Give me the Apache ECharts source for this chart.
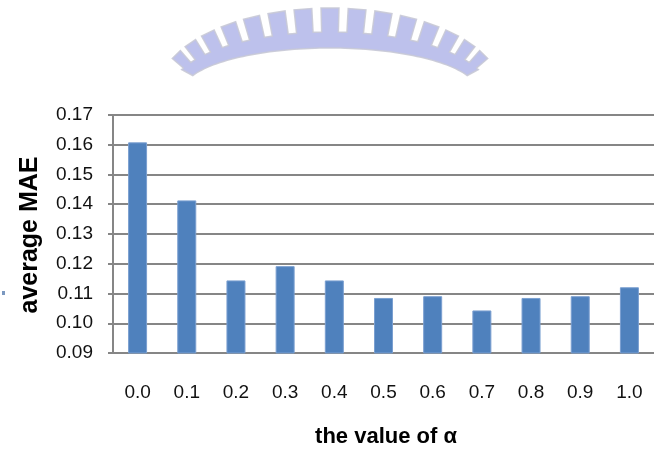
<!DOCTYPE html>
<html>
<head>
<meta charset="utf-8">
<script src="https://cdn.jsdelivr.net/npm/echarts@6/dist/echarts.min.js"></script>
<style>
  html, body { margin: 0; padding: 0; background: #ffffff; }
  #chart { width: 654px; height: 452px; }
</style>
</head>
<body>
<div id="chart"></div>
<script>
// alpha values on the x axis
const alphaLabels = ['0.0', '0.1', '0.2', '0.3', '0.4', '0.5', '0.6', '0.7', '0.8', '0.9', '1.0'];
// average MAE for each alpha
const avgMAE = [0.1608, 0.1413, 0.1144, 0.1192, 0.1144, 0.1085, 0.1091, 0.1043, 0.1085, 0.1091, 0.1121];
// value axis range
const yMin = 0.09;
const yMax = 0.17;
const yStep = 0.01;

// Toothed arc emblem drawn above the plot
function emblemPoints() {
  const cx = 330, cy = 92;
  const inner = [148, 44], base = [160, 60], tip = [172, 84];
  const a0 = 22, a1 = 158, teeth = 15, toothFrac = 0.66;
  const rad = d => d * Math.PI / 180;
  const pt = (deg, r) => [cx - r[0] * Math.cos(rad(deg)), cy - r[1] * Math.sin(rad(deg))];
  const pts = [];
  // inner edge, left to right
  for (let d = a0; d <= a1; d += 2) pts.push(pt(d, inner));
  // outer edge with teeth, right to left
  const step = (a1 - a0) / teeth;
  for (let i = teeth - 1; i >= 0; i--) {
    const s = a0 + i * step;
    const gap = step * (1 - toothFrac) / 2;
    pts.push(pt(s + step, base));
    pts.push(pt(s + step - gap, base));
    pts.push(pt(s + step - gap, tip));
    pts.push(pt(s + gap, tip));
    pts.push(pt(s + gap, base));
    pts.push(pt(s, base));
  }
  return pts;
}

const chart = echarts.init(document.getElementById('chart'), null, { renderer: 'canvas' });
const fontFamily = '"Liberation Sans", Arial, sans-serif';

chart.setOption({
  animation: false,
  backgroundColor: '#ffffff',
  grid: { left: 113, top: 115, width: 549, height: 238, containLabel: false },
  xAxis: {
    type: 'category',
    data: alphaLabels,
    axisLine: { show: true, lineStyle: { color: '#868686', width: 2 } },
    axisTick: { show: false },
    axisLabel: { color: '#111', fontSize: 19, fontFamily: fontFamily, margin: 30 }
  },
  yAxis: {
    type: 'value',
    min: yMin,
    max: yMax,
    interval: yStep,
    axisLine: { show: true, lineStyle: { color: '#868686', width: 2 } },
    axisTick: { show: true, inside: false, length: 5, lineStyle: { color: '#868686', width: 2 } },
    splitLine: { show: true, lineStyle: { color: '#868686', width: 2 } },
    axisLabel: {
      color: '#111', fontSize: 19, fontFamily: fontFamily, margin: 20,
      formatter: v => v.toFixed(2)
    }
  },
  series: [{
    type: 'bar',
    data: avgMAE,
    barWidth: 19,
    itemStyle: { color: '#4f81bd', borderColor: '#7a9fd0', borderWidth: 1 }
  }],
  graphic: {
    elements: [
      {
        type: 'polygon',
        shape: { points: emblemPoints() },
        style: { fill: '#b6baea', stroke: '#c8c9d6', lineWidth: 1.5, opacity: 0.9 },
        silent: true
      },
      {
        type: 'text',
        x: 386, y: 437,
        style: {
          text: 'the value of α', fill: '#000', fontSize: 22, fontWeight: 'bold', fontFamily: fontFamily,
          align: 'center', verticalAlign: 'middle'
        }
      },
      {
        type: 'text',
        x: 30, y: 235,
        rotation: Math.PI / 2,
        style: {
          text: 'average MAE', fill: '#000', fontSize: 25, fontWeight: 'bold', fontFamily: fontFamily,
          align: 'center', verticalAlign: 'middle'
        }
      },
      {
        type: 'rect',
        shape: { x: 2, y: 291, width: 3, height: 4 },
        style: { fill: '#7b98c0' }
      }
    ]
  }
});
</script>
</body>
</html>
